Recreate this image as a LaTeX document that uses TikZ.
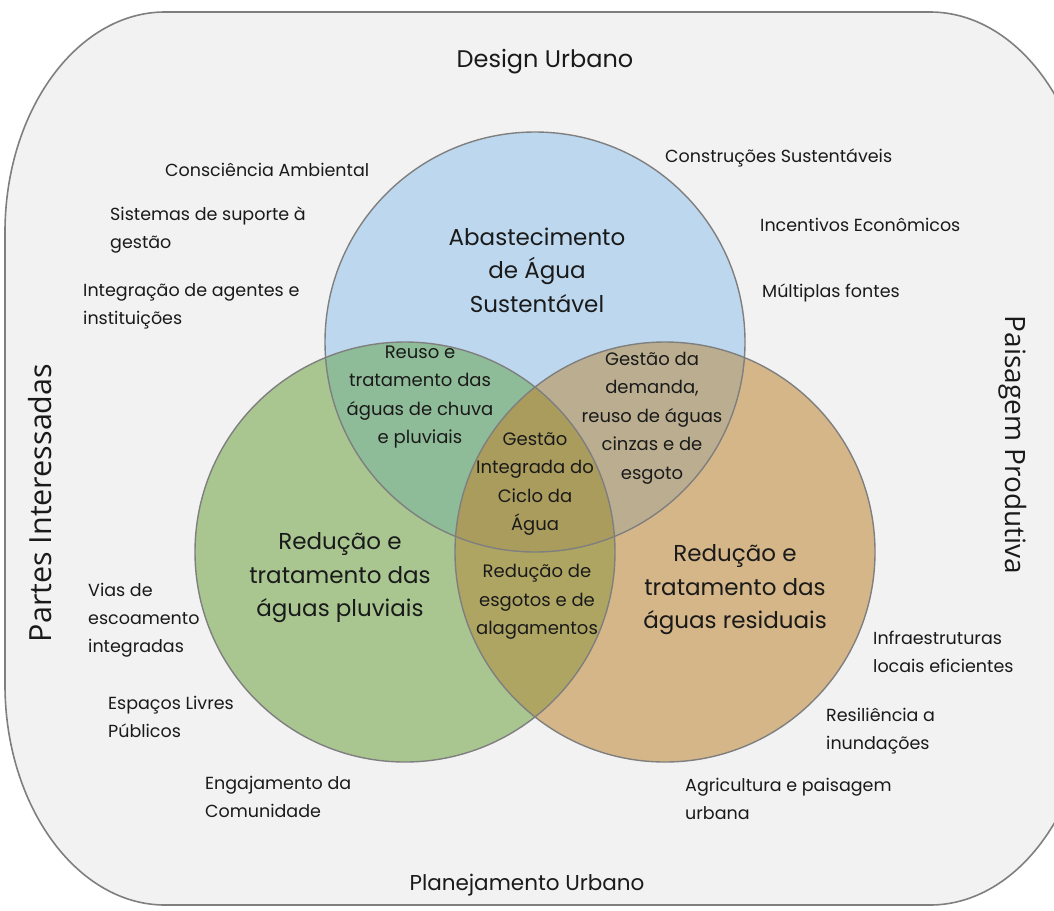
\documentclass[tikz,border=0pt]{standalone}
\usepackage{fontspec}
\setmainfont{Poppins}
\newfontfamily\sidefont{Open Sans}
\definecolor{bgc}{HTML}{F2F2F2}
\definecolor{edge}{HTML}{7F7F7F}
\definecolor{cblue}{HTML}{BDD8EE}
\definecolor{cgreen}{HTML}{A9C691}
\definecolor{cbrown}{HTML}{D5B688}
\definecolor{cbg}{HTML}{8FBC98}
\definecolor{cbb}{HTML}{BBAE90}
\definecolor{cgb}{HTML}{AFA563}
\definecolor{ccen}{HTML}{AA9C5C}
\definecolor{txt}{HTML}{1A1A1A}
\begin{document}
\begin{tikzpicture}[x=1pt,y=-1pt,
  every node/.style={inner sep=0pt, text=txt},
  big/.style={font=\fontsize{23}{33.5}\selectfont, align=center},
  mid/.style={font=\fontsize{18}{28.5}\selectfont, align=center},
  small/.style={font=\fontsize{17.5}{28}\selectfont, align=left, anchor=west},
  ttl/.style={font=\fontsize{21.5}{26}\selectfont},
  side/.style={font=\sidefont\fontsize{28}{32}\selectfont},
  ring/.style={draw=edge, line width=1.4pt}]
\useasboundingbox (0,0) rectangle (1054,910);
% outer frame
\path[draw=edge, fill=bgc, line width=1.6pt]
  (165,12) -- (930,12) .. controls (1018,12) and (1090,111) .. (1090,232)
  -- (1090,685) .. controls (1090,806) and (1018,905) .. (930,905)
  -- (165,905) .. controls (77,905) and (5,806) .. (5,685)
  -- (5,232) .. controls (5,111) and (77,12) .. (165,12) -- cycle;
% circles
\def\R{210}
\coordinate (cb) at (535,342);
\coordinate (cg) at (405,552);
\coordinate (cr) at (665,552);
\fill[cblue] (cb) circle (\R);
\fill[cgreen] (cg) circle (\R);
\fill[cbrown] (cr) circle (\R);
\begin{scope}
  \clip (cb) circle (\R);
  \fill[cbg] (cg) circle (\R);
  \fill[cbb] (cr) circle (\R);
\end{scope}
\begin{scope}
  \clip (cg) circle (\R);
  \fill[cgb] (cr) circle (\R);
  \clip (cr) circle (\R);
  \fill[ccen] (cb) circle (\R);
\end{scope}
\draw[ring] (cb) circle (\R);
\draw[ring] (cg) circle (\R);
\draw[ring] (cr) circle (\R);
% titles
\node[ttl, font=\fontsize{24}{28}\selectfont] (du) at (545,62) {Design Urbano};
\node[ttl] (pu) at (527,885) {Planejamento Urbano};
\node[side, font=\sidefont\fontsize{30.5}{34}\selectfont, rotate=90] (pi) at (40,503) {Partes Interessadas};
\node[side, rotate=-90] (pp) at (1013,445) {Paisagem Produtiva};
% circle labels
\node[big] (ab) at (537,270) {Abastecimento\\de Água\\Sustentável};
\node[big] (rp) at (340,578) {Redução e\\tratamento das\\águas pluviais};
\node[big] (rr) at (735,590) {Redução e\\tratamento das\\águas residuais};
% overlap labels
\node[mid] (ru) at (420,397) {Reuso e\\tratamento das\\águas de chuva\\e pluviais};
\node[mid] (gd) at (652,418) {Gestão da\\demanda,\\reuso de águas\\cinzas e de\\esgoto};
\node[mid] (gi) at (535,484) {Gestão\\Integrada do\\Ciclo da\\Água};
\node[mid] (re) at (537,602) {Redução de\\esgotos e de\\alagamentos};
% outer labels
\node[small] (l1) at (165,170) {Consciência Ambiental};
\node[small] (l2) at (110,230) {Sistemas de suporte à\\gestão};
\node[small] (l3) at (83,306) {Integração de agentes e\\instituições};
\node[small] (l4) at (665,158) {Construções Sustentáveis};
\node[small] (l5) at (760,225) {Incentivos Econômicos};
\node[small] (l6) at (762,293) {Múltiplas fontes};
\node[small] (l7) at (88,620) {Vias de\\escoamento\\integradas};
\node[small] (l8) at (108,717) {Espaços Livres\\Públicos};
\node[small] (l9) at (205,797) {Engajamento da\\Comunidade};
\node[small] (l10) at (873,652) {Infraestruturas\\locais eficientes};
\node[small] (l11) at (826,731) {Resiliência a\\inundações};
\node[small] (l12) at (685,799) {Agricultura e paisagem\\urbana};
\end{tikzpicture}
\end{document}
